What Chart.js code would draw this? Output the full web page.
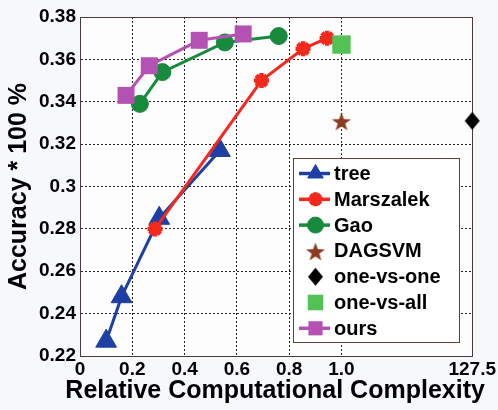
<!DOCTYPE html>
<html><head><meta charset="utf-8">
<script src="https://cdn.jsdelivr.net/npm/chart.js@4"></script>
<style>html,body{margin:0;padding:0;background:#f7f8fc;}#wrap{width:498px;height:410px;}</style>
</head><body><div id="wrap"><canvas id="c" width="498" height="410"></canvas></div>
<script>
// ---- data ----
const treeX = [0.10, 0.159, 0.303, 0.535];
const treeY = [0.227, 0.248, 0.285, 0.317];
const marszalekX = [0.287, 0.694, 0.853, 0.945];
const marszalekY = [0.280, 0.350, 0.365, 0.370];
const gaoX = [0.229, 0.315, 0.554, 0.760];
const gaoY = [0.339, 0.354, 0.368, 0.371];
const dagsvmX = [1.0];
const dagsvmY = [0.331];
const oneVsOneX = [127.5];
const oneVsOneY = [0.331];
const oneVsAllX = [1.0];
const oneVsAllY = [0.367];
const oursX = [0.176, 0.265, 0.456, 0.624];
const oursY = [0.343, 0.357, 0.369, 0.372];

const xTickValues = [0, 0.2, 0.4, 0.6, 0.8, 1.0, 1.5];
const xTickLabels = ['0', '0.2', '0.4', '0.6', '0.8', '1.0', '127.5'];
const yTickValues = [0.22, 0.24, 0.26, 0.28, 0.30, 0.32, 0.34, 0.36, 0.38];
const yTickLabels = ['0.22', '0.24', '0.26', '0.28', '0.3', '0.32', '0.34', '0.36', '0.38'];
const xTitle = 'Relative Computational Complexity';
const yTitle = 'Accuracy * 100 %';

// broken x axis: values beyond 1.0 are placed at the last tick (labelled 127.5)
const brokenAxisPos = v => (v > 1.0 ? 1.5 : v);
const toPts = (xs, ys) => xs.map((x, i) => ({ x: brokenAxisPos(x), y: ys[i] }));

const FONT = "'Liberation Sans', Arial, Helvetica, sans-serif";

function starCanvas(rOuter, rInner, color) {
  const s = Math.ceil(rOuter * 2 + 2);
  const c = document.createElement('canvas'); c.width = s; c.height = s;
  const g = c.getContext('2d'); g.fillStyle = color; g.beginPath();
  for (let i = 0; i < 10; i++) {
    const r = i % 2 ? rInner : rOuter;
    const a = -Math.PI / 2 + i * Math.PI / 5;
    const px = s / 2 + r * Math.cos(a), py = s / 2 + 1.5 + r * Math.sin(a);
    if (i) g.lineTo(px, py); else g.moveTo(px, py);
  }
  g.closePath(); g.fill(); return c;
}
function diamondCanvas(hw, hh, color) {
  const w = Math.ceil(hw * 2 + 2), h = Math.ceil(hh * 2 + 2);
  const c = document.createElement('canvas'); c.width = w; c.height = h;
  const g = c.getContext('2d'); g.fillStyle = color; g.beginPath();
  g.moveTo(w / 2, h / 2 - hh); g.lineTo(w / 2 + hw, h / 2); g.lineTo(w / 2, h / 2 + hh); g.lineTo(w / 2 - hw, h / 2);
  g.closePath(); g.fill(); return c;
}
const starImg = starCanvas(10, 4, '#8c3a1e');
const diamondImg = diamondCanvas(7.5, 9, '#000000');

const C_TREE = '#1e40a4', C_MARS = '#f2291c', C_GAO = '#178a3d', C_ALL = '#52c255', C_OURS = '#b452b4';

const datasets = [
  { label: 'tree', data: toPts(treeX, treeY), showLine: true, borderColor: C_TREE, backgroundColor: C_TREE,
    borderWidth: 3, pointStyle: 'triangle', pointRadius: 12, pointBorderWidth: 1, legendRadius: 9, order: 7 },
  { label: 'Marszalek', data: toPts(marszalekX, marszalekY), showLine: true, borderColor: C_MARS, backgroundColor: C_MARS,
    borderWidth: 3, pointStyle: 'star', pointRadius: 7.5, pointBorderWidth: 4.5, legendRadius: 7, order: 6 },
  { label: 'Gao', data: toPts(gaoX, gaoY), showLine: true, borderColor: C_GAO, backgroundColor: C_GAO,
    borderWidth: 3, pointStyle: 'circle', pointRadius: 8.5, pointBorderWidth: 1, legendRadius: 8, order: 5 },
  { label: 'DAGSVM', data: toPts(dagsvmX, dagsvmY), showLine: false, borderColor: '#8c3a1e', backgroundColor: '#8c3a1e',
    pointStyle: starImg, pointRadius: 10, legendRadius: 10, order: 4 },
  { label: 'one-vs-one', data: toPts(oneVsOneX, oneVsOneY), showLine: false, borderColor: '#000', backgroundColor: '#000',
    pointStyle: diamondImg, pointRadius: 9, legendRadius: 9, order: 3 },
  { label: 'one-vs-all', data: toPts(oneVsAllX, oneVsAllY), showLine: false, borderColor: C_ALL, backgroundColor: C_ALL,
    pointStyle: 'rect', pointRadius: 13, pointBorderWidth: 0, legendRadius: 11, order: 2 },
  { label: 'ours', data: toPts(oursX, oursY), showLine: true, borderColor: C_OURS, backgroundColor: C_OURS,
    borderWidth: 3, pointStyle: 'rect', pointRadius: 12, pointBorderWidth: 0, legendRadius: 10, order: 1 }
];
datasets.forEach(d => { d.clip = false; d.tension = 0; d.pointHoverRadius = d.pointRadius; });

const bgPlugin = {
  id: 'bg',
  beforeDraw(chart) {
    const { ctx, chartArea: a } = chart;
    ctx.save();
    ctx.fillStyle = '#f7f8fc'; ctx.fillRect(0, 0, chart.width, chart.height);
    ctx.fillStyle = '#fdfdfe'; ctx.fillRect(a.left, a.top, a.right - a.left, a.bottom - a.top);
    ctx.restore();
  },
  beforeDatasetsDraw(chart) {
    const { ctx, chartArea: a } = chart;
    ctx.save();
    ctx.strokeStyle = '#4a3a3a'; ctx.lineWidth = 1;
    ctx.strokeRect(Math.round(a.left) + 0.5, Math.round(a.top) + 0.5, Math.round(a.right - a.left), Math.round(a.bottom - a.top));
    ctx.restore();
  }
};

// x-axis title drawn without Chart.js's maxWidth squeeze (the reference title is wider than the plot)
const xTitlePlugin = {
  id: 'xTitle',
  afterDraw(chart) {
    const ctx = chart.ctx, a = chart.chartArea;
    ctx.save();
    ctx.fillStyle = '#000'; ctx.font = 'bold 25px ' + FONT;
    ctx.textAlign = 'center'; ctx.textBaseline = 'alphabetic';
    ctx.fillText(xTitle, (a.left + a.right) / 2 - 1, chart.height - 12);
    ctx.restore();
  }
};

const legendPlugin = {
  id: 'customLegend',
  afterDraw(chart) {
    const ctx = chart.ctx;
    const box = { l: 293.5, t: 158.5, r: 459.5, b: 342.5 };
    ctx.save();
    ctx.fillStyle = '#ffffff';
    ctx.fillRect(box.l, box.t, box.r - box.l, box.b - box.t);
    ctx.strokeStyle = '#6a3b32'; ctx.lineWidth = 1;
    ctx.strokeRect(box.l, box.t, box.r - box.l, box.b - box.t);
    const rowY0 = 173.5, step = 25.8, lx0 = 299, lx1 = 330, mx = 315.5, tx = 334;
    chart.data.datasets.forEach((d, i) => {
      const y = rowY0 + i * step;
      if (d.showLine) {
        ctx.strokeStyle = d.borderColor; ctx.lineWidth = 3.5;
        ctx.beginPath(); ctx.moveTo(lx0, y); ctx.lineTo(lx1, y); ctx.stroke();
      }
      ctx.fillStyle = d.backgroundColor; ctx.strokeStyle = d.borderColor;
      ctx.lineWidth = d.pointBorderWidth || 0;
      Chart.helpers.drawPoint(ctx, { pointStyle: d.pointStyle, radius: d.legendRadius, rotation: 0, borderWidth: d.pointBorderWidth || 0 }, mx, y);
      ctx.fillStyle = '#000'; ctx.font = 'bold 20px ' + FONT;
      ctx.textAlign = 'left'; ctx.textBaseline = 'middle';
      ctx.fillText(d.label, tx, y + 1);
    });
    ctx.restore();
  }
};

const gridColor = (edgeVals) => (c) => {
  const v = c.tick ? c.tick.value : null;
  if (v === null) return 'rgba(0,0,0,0)';
  return edgeVals.some(e => Math.abs(e - v) < 1e-9) ? 'rgba(0,0,0,0)' : '#222';
};

new Chart(document.getElementById('c'), {
  type: 'scatter',
  data: { datasets },
  plugins: [bgPlugin, xTitlePlugin, legendPlugin],
  options: {
    responsive: false, animation: false, devicePixelRatio: 1, events: [],
    layout: { padding: { left: 0, right: 25, top: 17, bottom: 0 } },
    plugins: { legend: { display: false }, tooltip: { enabled: false } },
    scales: {
      x: {
        type: 'linear', min: 0, max: 1.5,
        afterBuildTicks: s => { s.ticks = xTickValues.map(v => ({ value: v })); },
        afterFit: s => { s.height = 54; },
        border: { display: true, width: 1, color: 'rgba(0,0,0,0)', dash: [2, 2] },
        grid: { drawTicks: false, color: gridColor([0, 1.5]), lineWidth: 1, borderDash: [2, 2] },
        ticks: { autoSkip: false, maxRotation: 0, padding: 2, color: '#000',
          font: { family: FONT, size: 19, weight: 'bold' },
          callback: (v, i) => xTickLabels[i] },
        title: { display: false }
      },
      y: {
        type: 'linear', min: 0.22, max: 0.38,
        afterBuildTicks: s => { s.ticks = yTickValues.map(v => ({ value: v })); },
        afterFit: s => { s.width = 80; },
        border: { display: true, width: 1, color: 'rgba(0,0,0,0)', dash: [2, 2] },
        grid: { drawTicks: false, color: gridColor([0.22, 0.38]), lineWidth: 1, borderDash: [2, 2] },
        ticks: { autoSkip: false, padding: 4, color: '#000',
          font: { family: FONT, size: 19, weight: 'bold' },
          callback: (v, i) => yTickLabels[i] },
        title: { display: true, text: yTitle, color: '#000',
          font: { family: FONT, size: 25, weight: 'bold' }, padding: { top: 4, bottom: 0 } }
      }
    }
  }
});
</script></body></html>
